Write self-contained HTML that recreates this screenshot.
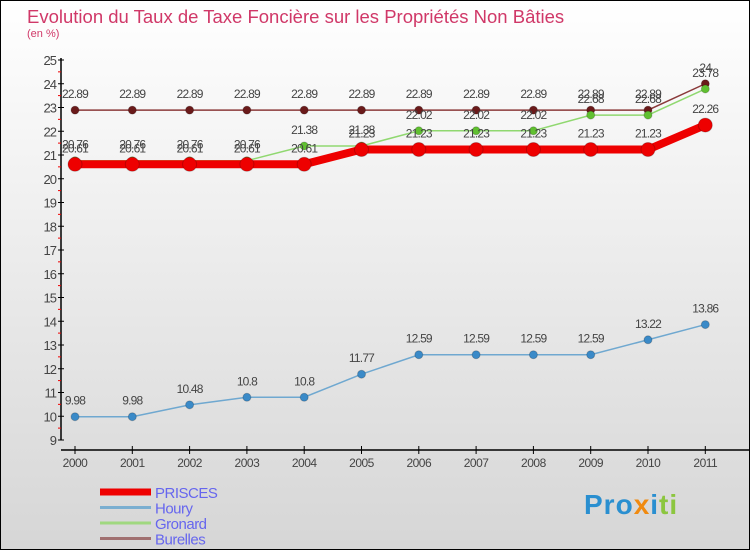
<!DOCTYPE html>
<html><head><meta charset="utf-8"><style>
body{margin:0;width:750px;height:550px;overflow:hidden;font-family:"Liberation Sans",sans-serif}
#wrap{position:relative;width:748px;height:548px;border:1px solid #000;background:linear-gradient(#ffffff,#d6d6d6)}
.t{position:absolute}
</style></head><body>
<div id="wrap">
<div class="t" style="left:26px;top:5px;font-size:18.5px;color:#d03868;font-weight:300">Evolution du Taux de Taxe Foncière sur les Propriétés Non Bâties</div>
<div class="t" style="left:26px;top:27px;font-size:11px;color:#d03868">(en %)</div>
<svg id="chart" width="750" height="550" style="position:absolute;left:-1px;top:-1px"></svg>
<div class="t" style="left:583px;top:488px;font-size:28px;font-weight:bold;letter-spacing:1px"><span style="color:#2a8fd0">Pro</span><span style="color:#f08a10">x</span><span style="color:#2a8fd0">i</span><span style="color:#8cc63f">ti</span></div>
</div>
<script>
const years=[2000,2001,2002,2003,2004,2005,2006,2007,2008,2009,2010,2011];
const prisces=[20.61,20.61,20.61,20.61,20.61,21.23,21.23,21.23,21.23,21.23,21.23,22.26];
const houry=[9.98,9.98,10.48,10.8,10.8,11.77,12.59,12.59,12.59,12.59,13.22,13.86];
const gronard=[20.76,20.76,20.76,20.76,21.38,21.38,22.02,22.02,22.02,22.68,22.68,23.78];
const burelles=[22.89,22.89,22.89,22.89,22.89,22.89,22.89,22.89,22.89,22.89,22.89,24];
const yTicks=[9,10,11,12,13,14,15,16,17,18,19,20,21,22,23,24,25];
const names=["PRISCES","Houry","Gronard","Burelles"];
const svg=document.getElementById('chart');const NS="http://www.w3.org/2000/svg";
const X=i=>75+i*57.3, Y=v=>440-(v-9)*23.75;
function mk(tag,attrs,parent){const e=document.createElementNS(NS,tag);for(const k in attrs)e.setAttribute(k,attrs[k]);(parent||svg).appendChild(e);return e;}
let ax=mk('path',{d:'M61,58 V440 M61,450 H750',stroke:'#000','stroke-width':1.5,fill:'none'});


yTicks.forEach(v=>{
 const y=Y(v);
 let tk=mk('line',{x1:58,x2:64,y1:y,y2:y,stroke:'#000'});
 
 
 if(v<25){let m=mk('line',{x1:58,x2:61,y1:y-11.9,y2:y-11.9,stroke:'#e00'});}
 let tx=mk('text',{x:56,y:y+5,'text-anchor':'end','font-size':13,fill:'#444','letter-spacing':'-1'});tx.textContent=v;
 
 
});
years.forEach((yr,i)=>{
 let tk=mk('line',{x1:X(i),x2:X(i),y1:446,y2:454,stroke:'#000'});
 
 
 let tx=mk('text',{x:X(i),y:467,'text-anchor':'middle','font-size':12,fill:'#444','letter-spacing':'-0.5'});tx.textContent=yr;
 
 
});
function series(data,name,color,w,r,dot){
 const g=mk('g',{});
 
 
 let pl=mk('polyline',{points:data.map((v,i)=>X(i)+','+Y(v)).join(' '),fill:'none',stroke:color,'stroke-width':w},g);
 
 
 data.forEach((v,i)=>{
  let c=mk('circle',{cx:X(i),cy:Y(v),r:r,fill:dot,stroke:'#0003'},g);
  
  
  let t=mk('text',{x:X(i),y:Y(v)-12,'text-anchor':'middle','font-size':12,fill:'#444','letter-spacing':'-0.8'},g);t.textContent=v;
  
  
 });
}
series(houry,'houry','#6fa8d0',1.5,4,'#3a8ac8');
series(burelles,'burelles','#8a3a3a',1.5,4,'#6a1a1a');
series(gronard,'gronard','#90d870',1.5,4,'#60c030');
series(prisces,'prisces','#ee0000',8,7,'#ee0000');
const lc=['#ee0000','#7aaed0','#a0d880','#a07070'],lw=[7,3,3,3];
names.forEach((n,i)=>{
 const y=492+i*15.5;
 let l=mk('line',{x1:100,x2:151,y1:y,y2:y,stroke:lc[i],'stroke-width':lw[i]});
 
 
 let t=mk('text',{x:155,y:y+6,'font-size':15,fill:'#6666ee','letter-spacing':'-0.5'});t.textContent=n;
 
 
});
</script>
</body></html>
